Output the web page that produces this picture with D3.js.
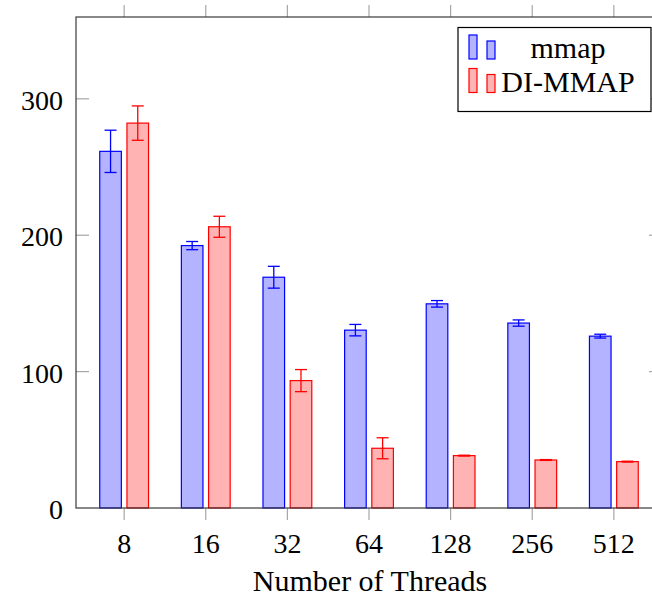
<!DOCTYPE html>
<html>
<head>
<meta charset="utf-8">
<script src="https://cdn.jsdelivr.net/npm/d3@7"></script>
<style>
  html, body { margin: 0; padding: 0; background: #fff; }
</style>
</head>
<body>
<svg id="chart" width="652" height="600"></svg>
<script>
const categories = ["8", "16", "32", "64", "128", "256", "512"];
const seriesNames = ["mmap", "DI-MMAP"];
const mmapValues = [261.5, 192.4, 169.2, 130.4, 149.7, 135.6, 126.0];
const mmapErrors = [15.5, 3.0, 8.0, 4.2, 2.4, 2.3, 1.4];
const dimmapValues = [282.2, 206.2, 93.4, 43.8, 38.4, 35.2, 34.0];
const dimmapErrors = [12.6, 7.7, 8.1, 7.7, 0.3, 0.3, 0.3];
const yTicks = [0, 100, 200, 300];
const xLabel = "Number of Threads";

const colors = [
  { fill: "#b3b3ff", stroke: "#0000ff" },
  { fill: "#ffb3b3", stroke: "#ff0000" }
];

const FONT = "Liberation Serif";
const svg = d3.select("#chart");
const pLeft = 76, pRight = 662, pTop = 17, pBottom = 508;

const x = d3.scalePoint().domain(categories).range([pLeft, pRight]).padding(0.59);
const y = d3.scaleLinear().domain([0, 360]).range([pBottom, pTop]);

const barW = 21.6, barOff = 13.6;
const series = [
  { name: seriesNames[0], values: mmapValues, errors: mmapErrors, off: -barOff, c: colors[0] },
  { name: seriesNames[1], values: dimmapValues, errors: dimmapErrors, off: barOff, c: colors[1] }
];

// ticks
const tickColor = "#a6a6a6";
const g = svg.append("g");
g.selectAll(".xtb").data(categories).enter().append("line")
  .attr("x1", d => x(d)).attr("x2", d => x(d))
  .attr("y1", pBottom).attr("y2", pBottom + 12)
  .attr("stroke", tickColor).attr("stroke-width", 1.2);
g.selectAll(".xtt").data(categories).enter().append("line")
  .attr("x1", d => x(d)).attr("x2", d => x(d))
  .attr("y1", pTop).attr("y2", pTop - 12)
  .attr("stroke", tickColor).attr("stroke-width", 1.2);
g.selectAll(".ytl").data(yTicks.filter(d => d > 0)).enter().append("line")
  .attr("x1", pLeft).attr("x2", pLeft + 13)
  .attr("y1", d => y(d)).attr("y2", d => y(d))
  .attr("stroke", tickColor).attr("stroke-width", 1.2);
g.selectAll(".ytr").data(yTicks.filter(d => d > 0)).enter().append("line")
  .attr("x1", pRight).attr("x2", pRight - 13)
  .attr("y1", d => y(d)).attr("y2", d => y(d))
  .attr("stroke", tickColor).attr("stroke-width", 1.2);

// bars
series.forEach(s => {
  const sg = svg.append("g");
  sg.selectAll("rect").data(categories).enter().append("rect")
    .attr("x", (d, i) => x(d) + s.off - barW / 2)
    .attr("y", (d, i) => y(s.values[i]))
    .attr("width", barW)
    .attr("height", (d, i) => y(0) - y(s.values[i]))
    .attr("fill", s.c.fill)
    .attr("stroke", s.c.stroke)
    .attr("stroke-width", 1.2);
  const eg = svg.append("g").attr("stroke", s.c.stroke).attr("stroke-width", 1.3);
  categories.forEach((d, i) => {
    const cx = x(d) + s.off;
    const y1 = y(s.values[i] + s.errors[i]);
    const y2 = y(s.values[i] - s.errors[i]);
    eg.append("line").attr("x1", cx).attr("x2", cx).attr("y1", y1).attr("y2", y2);
    eg.append("line").attr("x1", cx - 6).attr("x2", cx + 6).attr("y1", y1).attr("y2", y1);
    eg.append("line").attr("x1", cx - 6).attr("x2", cx + 6).attr("y1", y2).attr("y2", y2);
  });
});

// frame
const axisColor = "#3a3a3a";
svg.append("rect")
  .attr("x", pLeft).attr("y", pTop)
  .attr("width", pRight - pLeft).attr("height", pBottom - pTop)
  .attr("fill", "none").attr("stroke", axisColor).attr("stroke-width", 1.2);

// tick labels
svg.selectAll(".ylab").data(yTicks).enter().append("text")
  .attr("x", 63).attr("y", d => y(d) + 11)
  .attr("text-anchor", "end")
  .attr("font-family", FONT)
  .attr("font-size", 28)
  .text(d => d);
svg.selectAll(".xlab").data(categories).enter().append("text")
  .attr("x", d => x(d)).attr("y", 553)
  .attr("text-anchor", "middle")
  .attr("font-family", FONT)
  .attr("font-size", 28)
  .text(d => d);
svg.append("text")
  .attr("x", 370).attr("y", 591)
  .attr("text-anchor", "middle")
  .attr("font-family", FONT)
  .attr("font-size", 30)
  .text(xLabel);

// legend
const lg = svg.append("g");
lg.append("rect").attr("x", 458).attr("y", 27.5).attr("width", 193).attr("height", 84)
  .attr("fill", "#fff").attr("stroke", "#000").attr("stroke-width", 1.2);
series.forEach((s, i) => {
  const base = 59 + i * 33.5;
  lg.append("rect").attr("x", 469).attr("y", base - 24).attr("width", 8).attr("height", 24)
    .attr("fill", s.c.fill).attr("stroke", s.c.stroke).attr("stroke-width", 1.2);
  lg.append("rect").attr("x", 487).attr("y", base - 18).attr("width", 8).attr("height", 18)
    .attr("fill", s.c.fill).attr("stroke", s.c.stroke).attr("stroke-width", 1.2);
  lg.append("text").attr("x", 568).attr("y", base - 1)
    .attr("text-anchor", "middle")
    .attr("font-family", FONT)
    .attr("font-size", 30)
    .text(s.name);
});
</script>
</body>
</html>
